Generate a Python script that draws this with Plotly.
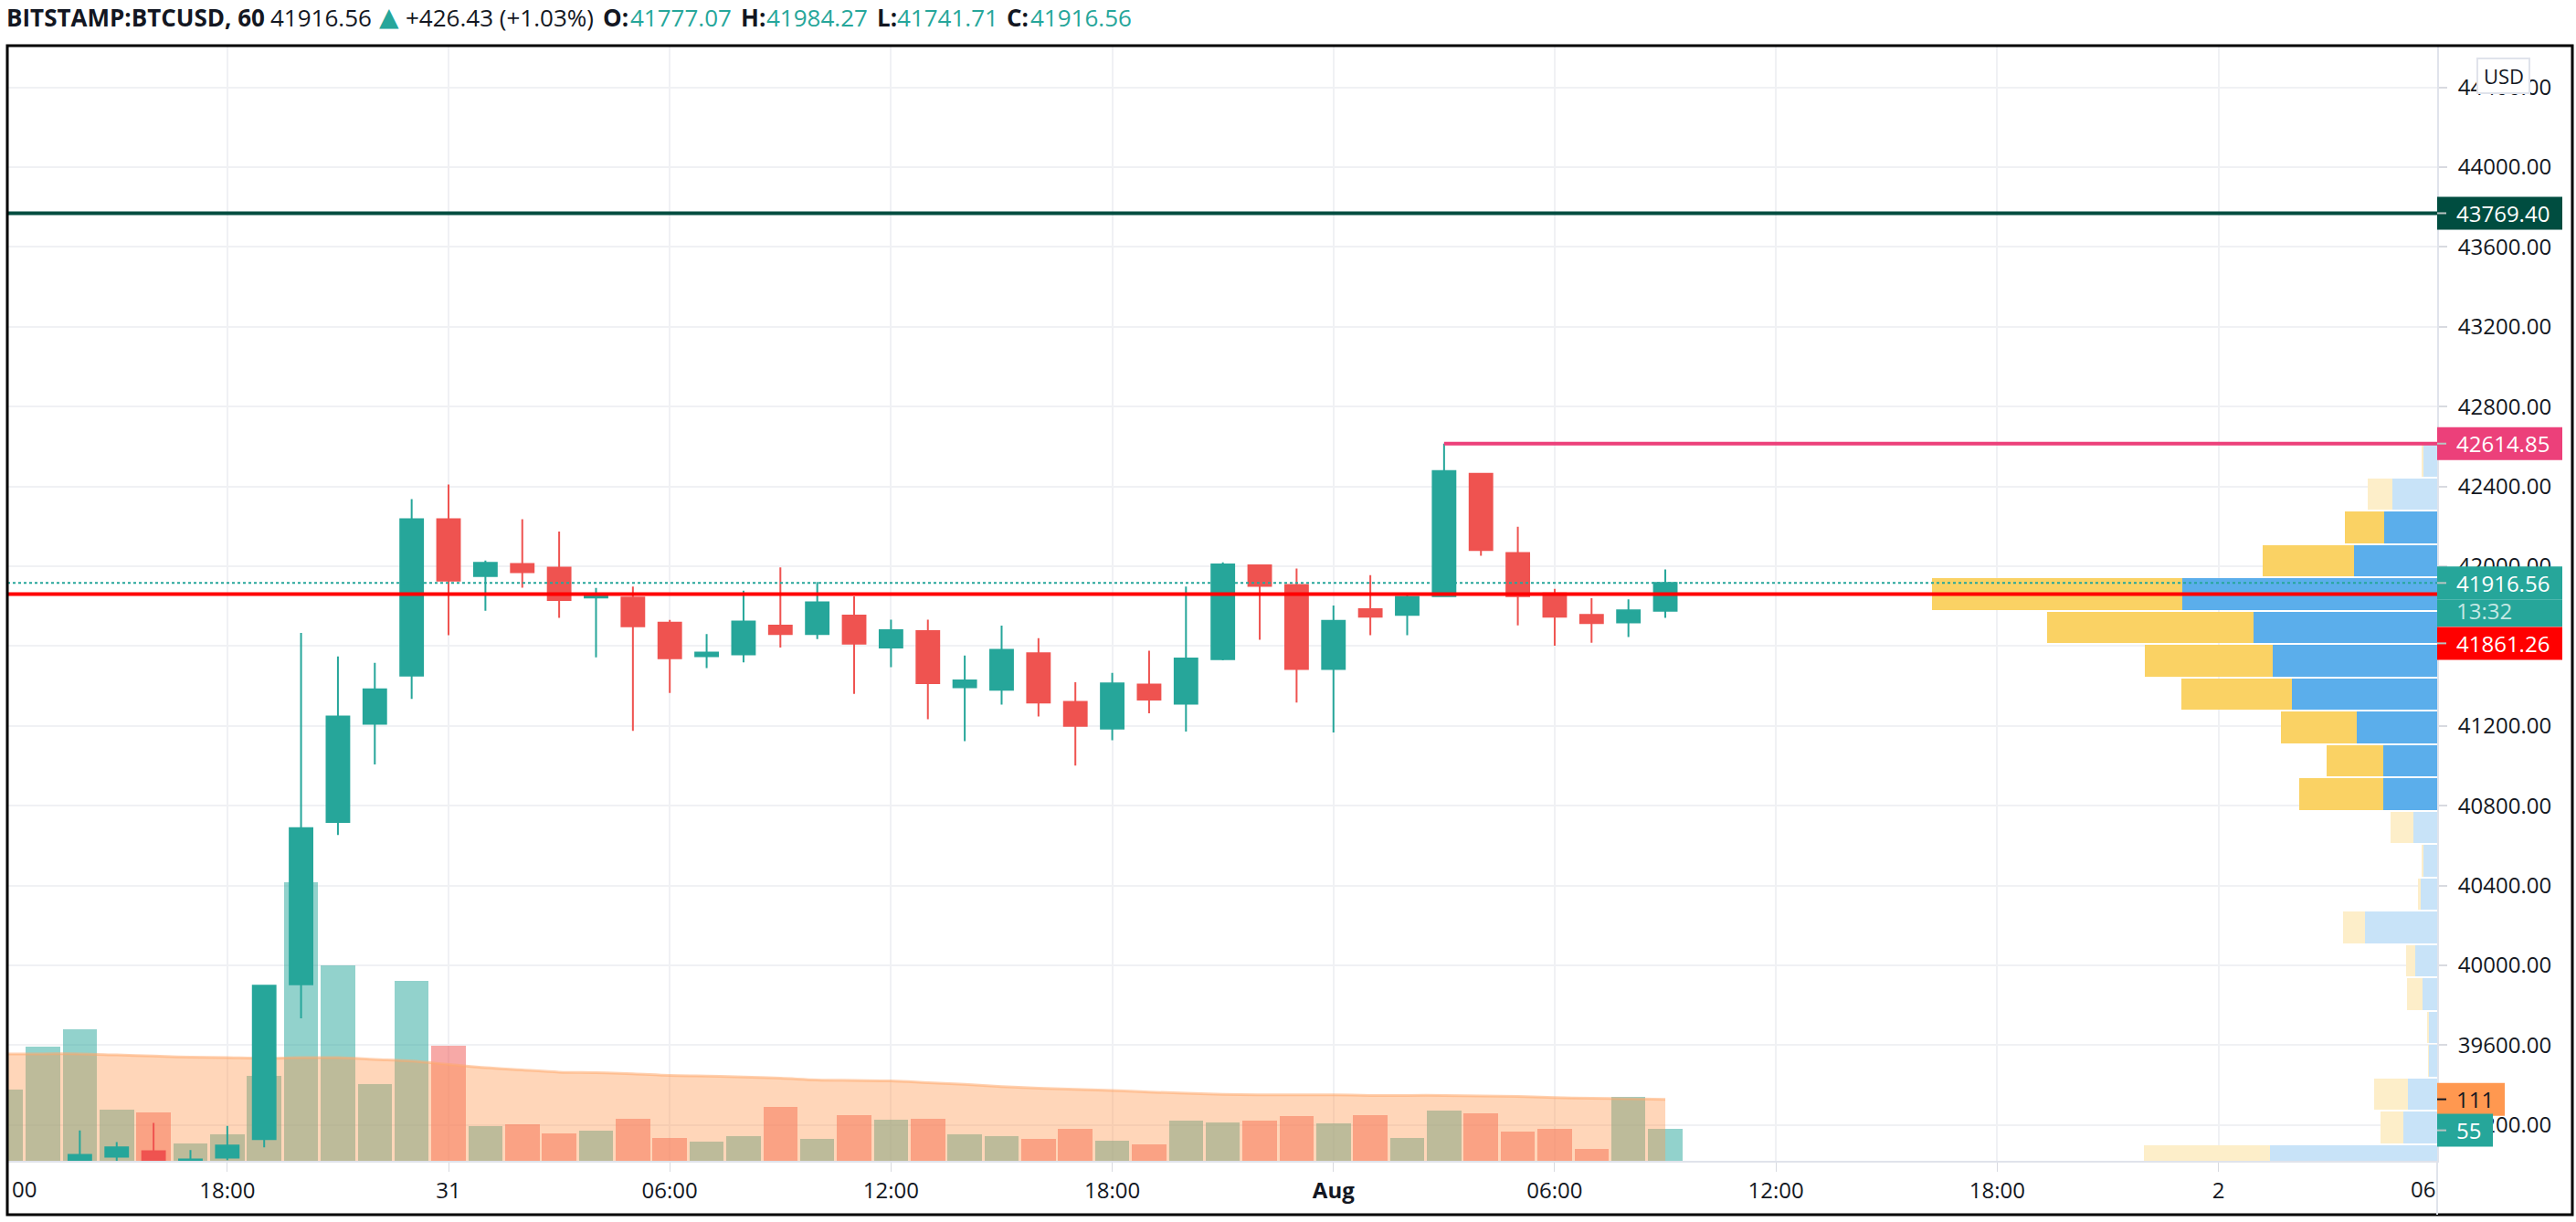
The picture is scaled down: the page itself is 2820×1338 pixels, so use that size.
import pandas as pd
import plotly.graph_objects as go

# hourly bars, Jul 30 12:00 - Aug 1 09:00 (the first two candles sit below the visible range)
vol_times = pd.date_range("2021-07-30 12:00", periods=46, freq="h")
times = vol_times[2:]

opens = [39025, 39042, 39069, 39024, 39037, 39130, 39905, 40719, 41211, 41452, 42236, 41951,
         42012, 41994, 41844, 41844, 41718, 41550, 41559, 41703, 41660, 41753, 41593, 41675,
         41394, 41381, 41564, 41321, 41187, 41408, 41312, 41535, 42005, 41907, 41486, 41785,
         41757, 41850, 42464, 42067, 41864, 41757, 41719, 41777.07]
closes = [39051, 39089, 39024, 39028, 39098, 39898, 40688, 41248, 41384, 42236, 41928, 42017,
          41971, 41831, 41855, 41699, 41539, 41568, 41724, 41660, 41820, 41613, 41680, 41414,
          41428, 41582, 41317, 41201, 41413, 41332, 41538, 42009, 41902, 41486, 41727, 41748,
          41847, 42478, 42082, 41850, 41748, 41715, 41780, 41916.56]
highs = [39173, 39115, 39211, 39075, 39196, 39900, 41666, 41548, 41516, 42337, 42410, 42029,
         42236, 42174, 41892, 41898, 41731, 41661, 41878, 41995, 41921, 41849, 41733, 41733,
         41553, 41703, 41640, 41419, 41466, 41577, 41898, 42020, 42005, 41989, 41803, 41956,
         41857, 42614.85, 42464, 42198, 41887, 41840, 41835, 41984.27]
lows = [39022, 39021, 39022, 39022, 39024, 39089, 39735, 40654, 41007, 41336, 41655, 41777,
        41893, 41742, 41544, 41175, 41365, 41490, 41519, 41593, 41635, 41361, 41495, 41234,
        41124, 41307, 41248, 41001, 41129, 41263, 41172, 41529, 41632, 41317, 41167, 41655,
        41655, 41850, 42053, 41704, 41602, 41617, 41646, 41741.71]

volumes = [128, 206, 238, 93, 88, 32, 47, 153, 503, 353, 138, 325, 208, 62, 66, 49, 54, 75, 41,
           34, 44, 97, 39, 82, 74, 75, 47, 44, 39, 58, 37, 30, 72, 70, 72, 81, 67, 82, 41, 91,
           86, 53, 57, 21, 116, 58]
vol_up = [1, 1, 1, 1, 0, 1, 1, 1, 1, 1, 1, 1, 0, 1, 0, 0, 1, 0, 0, 1, 1, 0, 1, 0, 1, 0, 1, 1, 0,
          0, 1, 0, 1, 1, 0, 0, 1, 0, 1, 1, 0, 0, 0, 0, 1, 1]
vol_ma = [193, 193, 193, 191, 189, 187, 186, 185, 186, 186, 183, 180, 174, 168, 164, 160, 159,
          157, 154, 153, 151, 149, 146, 145, 144, 141, 138, 134, 131, 129, 127, 124, 122, 120,
          119, 119, 119, 118, 118, 118, 117, 116, 114, 113, 112, 111]

# volume profile rows, top to bottom
row_prices = [42528.5, 42361.5, 42194.5, 42027.5, 41860.5, 41693.5, 41526.5, 41359.5, 41192.5,
              41025.5, 40858.5, 40691.5, 40524.5, 40357.5, 40190.5, 40023.5, 39856.5, 39689.5,
              39522.5, 39355.5, 39188.5, 39021.5]
row_up = [30, 94, 111, 175, 533, 385, 345, 305, 169, 113, 113, 49, 28, 35, 151, 45, 31, 19, 18,
          62, 71, 351]
row_down = [3, 52, 82, 190, 526, 433, 268, 231, 159, 118, 176, 49, 4, 6, 46, 21, 32, 1, 1, 71,
            48, 264]
value_area = [0, 0, 1, 1, 1, 1, 1, 1, 1, 1, 1, 0, 0, 0, 0, 0, 0, 0, 0, 0, 0, 0]

price_ticks = [39200, 39600, 40000, 40400, 40800, 41200, 41600, 42000, 42400, 42800, 43200,
               43600, 44000, 44400]
time_ticks = ["2021-07-30 18:00", "2021-07-31 00:00", "2021-07-31 06:00", "2021-07-31 12:00",
              "2021-07-31 18:00", "2021-08-01 00:00", "2021-08-01 06:00", "2021-08-01 12:00",
              "2021-08-01 18:00", "2021-08-02 00:00"]
time_labels = ["18:00", "31", "06:00", "12:00", "18:00", "<b>Aug</b>", "06:00", "12:00", "18:00", "2"]

level_top = 43769.40
level_high = 42614.85
level_last = 41916.56
level_red = 41861.26
high_time = "2021-08-01 03:00"

GREEN = "#26a69a"
RED = "#ef5350"
FONT = "Open Sans"
TEXT = "#131722"
TAG_TICK = "#b8c4c2"

W, H = 2820, 1338
L, R, T, B = 8, 2668, 50, 1271
x_range = ["2021-07-30 12:02", "2021-08-02 05:56"]
y_range = [39021, 44609]
vol_range = [0, 2012]
profile_range = [5090, 0]


def px(x):
    return (x - L) / (R - L)


def py(y):
    return (B - y) / (B - T)


fig = go.Figure()

# base subplot only carries the price grid and ticks
fig.add_trace(go.Scatter(x=times[:1], y=closes[:1], mode="none", showlegend=False))

fig.add_trace(go.Bar(x=vol_times, y=volumes, width=0.93 * 3600000, yaxis="y2",
                     marker=dict(color=["rgba(38,166,154,0.5)" if u else "rgba(239,83,80,0.5)" for u in vol_up],
                                 line_width=0)))
fig.add_trace(go.Scatter(x=vol_times, y=vol_ma, yaxis="y2", mode="lines", fill="tozeroy",
                         line=dict(color="rgba(255,170,110,0.55)", width=3, shape="spline"),
                         fillcolor="rgba(255,152,80,0.4)"))

fig.add_trace(go.Bar(y=row_prices, x=row_up, orientation="h", width=157, xaxis="x2", yaxis="y3",
                     marker=dict(color=["#5baeeb" if v else "#c8e3f8" for v in value_area], line_width=0)))
fig.add_trace(go.Bar(y=row_prices, x=row_down, orientation="h", width=157, xaxis="x2", yaxis="y3",
                     marker=dict(color=["#fad264" if v else "#fdeec9" for v in value_area], line_width=0)))

fig.add_trace(go.Scatter(x=x_range, y=[level_top] * 2, xaxis="x3", yaxis="y4", mode="lines",
                         line=dict(color="#004d40", width=4)))
fig.add_trace(go.Scatter(x=x_range, y=[level_last] * 2, xaxis="x3", yaxis="y4", mode="lines",
                         line=dict(color=GREEN, width=2, dash="dot")))
fig.add_trace(go.Scatter(x=x_range, y=[level_red] * 2, xaxis="x3", yaxis="y4", mode="lines",
                         line=dict(color="#ff0000", width=4)))
fig.add_trace(go.Scatter(x=[high_time, x_range[1]], y=[level_high] * 2, xaxis="x3", yaxis="y4",
                         mode="lines", line=dict(color="#ec407a", width=4)))

fig.add_trace(go.Candlestick(x=times, open=opens, high=highs, low=lows, close=closes,
                             xaxis="x3", yaxis="y4", whiskerwidth=0,
                             increasing=dict(line=dict(color=GREEN, width=2), fillcolor=GREEN),
                             decreasing=dict(line=dict(color=RED, width=2), fillcolor=RED)))

fig.update_layout(
    width=W, height=H,
    margin=dict(l=L, r=W - R, t=T, b=H - B, pad=0),
    paper_bgcolor="white", plot_bgcolor="white",
    showlegend=False, barmode="stack", boxgap=0.12, hovermode=False,
    font=dict(family=FONT, size=24, color=TEXT),
    xaxis=dict(type="date", range=x_range, tickvals=time_ticks, ticktext=time_labels, tickangle=0,
               showgrid=True, gridcolor="#f0f1f4", gridwidth=2, zeroline=False,
               ticks="outside", ticklen=10, tickcolor="#d8dae0", tickwidth=1,
               showline=True, linecolor="#e0e3eb", linewidth=2,
               tickfont=dict(family=FONT, size=24, color=TEXT), rangeslider=dict(visible=False)),
    yaxis=dict(range=y_range, side="right", tickvals=price_ticks, tickformat=".2f",
               showgrid=True, gridcolor="#f0f1f4", gridwidth=2, zeroline=False,
               ticks="outside", ticklen=9, tickcolor="#d8dae0", tickwidth=2, ticklabelstandoff=7,
               showline=True, linecolor="#e0e3eb", linewidth=2,
               tickfont=dict(family=FONT, size=24, color=TEXT)),
    yaxis2=dict(range=vol_range, overlaying="y", visible=False),
    xaxis2=dict(range=profile_range, overlaying="x", visible=False),
    yaxis3=dict(range=y_range, overlaying="y", visible=False),
    xaxis3=dict(type="date", range=x_range, overlaying="x", visible=False, rangeslider=dict(visible=False)),
    yaxis4=dict(range=y_range, overlaying="y", visible=False),
)

# chart frame and the price axis line running down to the frame
fig.add_shape(type="rect", xref="paper", yref="paper", x0=px(8), x1=px(2816), y0=py(1330), y1=py(50),
              line=dict(color="black", width=3), layer="above")
fig.add_shape(type="line", xref="paper", yref="paper", x0=1, x1=1, y0=py(1330), y1=0,
              line=dict(color="#e0e3eb", width=2), layer="above")


def price_tag(value, color, text, text_color="white", yref="y", width=137, top=18, bottom=-18):
    fig.add_shape(type="rect", xref="paper", x0=1, x1=1 + width / (R - L), yref=yref,
                  ysizemode="pixel", yanchor=value, y0=bottom, y1=top,
                  fillcolor=color, line_width=0, layer="above")
    mid = (top + bottom) / 2
    fig.add_shape(type="line", xref="paper", x0=1, x1=1 + 10 / (R - L), yref=yref,
                  ysizemode="pixel", yanchor=value, y0=mid, y1=mid,
                  line=dict(color=TAG_TICK if text_color == "white" else TEXT, width=2), layer="above")
    fig.add_annotation(xref="paper", yref=yref, x=px(2687), y=value, text=text, showarrow=False,
                       xanchor="left", yanchor="middle", yshift=mid,
                       font=dict(family=FONT, size=24, color=text_color))


price_tag(level_top, "#004d40", f"{level_top:.2f}")
price_tag(level_high, "#ec407a", f"{level_high:.2f}")
fig.add_shape(type="rect", xref="paper", x0=1, x1=1 + 137 / (R - L), yref="y",
              ysizemode="pixel", yanchor=level_last, y0=-48, y1=-18,
              fillcolor=GREEN, line_width=0, layer="above")
price_tag(level_last, GREEN, f"{level_last:.2f}")
fig.add_annotation(xref="paper", yref="y", x=px(2687), y=level_last, yshift=-30, text="13:32",
                   showarrow=False, xanchor="left", yanchor="middle",
                   font=dict(family=FONT, size=24, color="#c4e8e4"))
price_tag(level_red, "#ff0000", f"{level_red:.2f}", top=-36, bottom=-72)
price_tag(vol_ma[-1], "#ff9850", str(vol_ma[-1]), text_color=TEXT, yref="y2", width=74)
price_tag(55, GREEN, "55", yref="y2", width=61)

# currency chip over the top tick label
fig.add_shape(type="rect", xref="paper", yref="paper", x0=px(2712), x1=px(2769), y0=py(102), y1=py(64),
              fillcolor="white", line=dict(color="#e0e3eb", width=2), layer="above")
fig.add_annotation(xref="paper", yref="paper", x=px(2740.5), y=py(83), text="USD", showarrow=False,
                   xanchor="center", yanchor="middle", font=dict(family=FONT, size=22, color=TEXT))

# time labels cut off by the plot edges
fig.add_annotation(xref="paper", yref="paper", x=px(11), y=py(1301), text="00", showarrow=False,
                   xanchor="left", yanchor="middle", font=dict(family=FONT, size=24, color=TEXT))
fig.add_annotation(xref="paper", yref="paper", x=px(2668), y=py(1301), text="06", showarrow=False,
                   xanchor="right", yanchor="middle", font=dict(family=FONT, size=24, color=TEXT))

# legend line above the chart, one piece per text run
header_parts = [
    (5, "<b>BITSTAMP:BTCUSD, 60</b>", TEXT, 26, FONT),
    (294, "41916.56", TEXT, 26, FONT),
    (413, "▲", GREEN, 28, "DejaVu Sans"),
    (442, "+426.43 (+1.03%)", TEXT, 26, FONT),
    (658, "<b>O:</b>", TEXT, 26, FONT),
    (688, "41777.07", GREEN, 26, FONT),
    (809, "<b>H:</b>", TEXT, 26, FONT),
    (837, "41984.27", GREEN, 26, FONT),
    (958, "<b>L:</b>", TEXT, 26, FONT),
    (980, "41741.71", GREEN, 26, FONT),
    (1100, "<b>C:</b>", TEXT, 26, FONT),
    (1126, "41916.56", GREEN, 26, FONT),
]
for left, text, color, size, family in header_parts:
    fig.add_annotation(xref="paper", yref="paper", x=px(left), y=py(19), text=text, showarrow=False,
                       xanchor="left", yanchor="middle", font=dict(family=family, size=size, color=color))

fig.write_html("out.html", config=dict(displayModeBar=False), post_script="document.body.style.margin='0';")
